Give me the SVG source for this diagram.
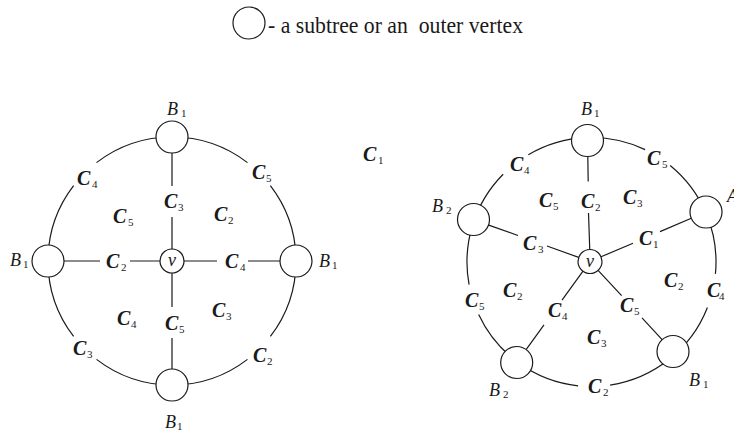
<svg xmlns="http://www.w3.org/2000/svg" width="734" height="434" viewBox="0 0 734 434">
<style>
.ln{fill:none;stroke:#1a1a1a;stroke-width:1.2}
.nd{fill:#fff;stroke:#1a1a1a;stroke-width:1.2}
.c{font-family:"Liberation Serif",serif;font-style:italic;font-weight:bold;font-size:20px;fill:#1a1a1a}
.b{font-family:"Liberation Serif",serif;font-style:italic;font-size:18px;fill:#1a1a1a}
.s{font-family:"Liberation Serif",serif;font-style:normal;font-weight:normal;font-size:11px;fill:#1a1a1a}
.lg{font-family:"Liberation Serif",serif;font-size:24px;fill:#1a1a1a;white-space:pre}
</style>
<g id="legend">
<circle class="nd" cx="249" cy="23" r="16"/>
<text class="lg" x="268" y="33" textLength="255" lengthAdjust="spacingAndGlyphs">- a subtree or an  outer vertex</text>
</g>
<g id="connectors">
<path class="ln" d="M270.38 185.51A124 124 0 0 1 270.38 336.49M247.49 359.38A124 124 0 0 1 96.51 359.38M73.62 336.49A124 124 0 0 1 73.62 185.51M96.51 162.62A124 124 0 0 1 247.49 162.62"/>
<path class="ln" d="M172 153V186M172 217V249M64 261H100M130 261H160M184 261H217M248 261H280M172 273V307M172 338V369"/>
<path class="ln" d="M528.32 154.73A124.5 124.5 0 0 1 645.10 149.63M670.18 165.53A124.5 124.5 0 0 1 715.43 273.93M707.42 307.43A124.5 124.5 0 0 1 610.11 385.11M578.05 385.78A124.5 124.5 0 0 1 478.67 314.61M469.08 284.69A124.5 124.5 0 0 1 503.16 174.28"/>
<path class="ln" d="M587.8 156.5L588.2 181.5M588.5 213L589.75 249.5M601 256.8L633 243.2M660 231.6L691.3 218.3M598.1 270.3L621.6 295.7M642 317.9L662.1 339.7M583 271.2L562 300.1M544 324.9L526.1 349.6M578.7 257.4L547 246M518 235.5L488 224.9"/>
</g>
<g id="labels">
<text class="c" x="77" y="185">C<tspan class="s" x="92" y="188">4</tspan></text>
<text class="c" x="164" y="208">C<tspan class="s" x="178" y="211">3</tspan></text>
<text class="c" x="113" y="223">C<tspan class="s" x="128" y="226">5</tspan></text>
<text class="c" x="214" y="221">C<tspan class="s" x="228" y="224">2</tspan></text>
<text class="c" x="252" y="179">C<tspan class="s" x="266" y="182">5</tspan></text>
<text class="c" x="106" y="268">C<tspan class="s" x="121" y="271">2</tspan></text>
<text class="c" x="225" y="268">C<tspan class="s" x="240" y="271">4</tspan></text>
<text class="c" x="117" y="325">C<tspan class="s" x="131" y="328">4</tspan></text>
<text class="c" x="165" y="330">C<tspan class="s" x="179" y="333">5</tspan></text>
<text class="c" x="212" y="317">C<tspan class="s" x="226" y="320">3</tspan></text>
<text class="c" x="73" y="355">C<tspan class="s" x="87" y="358">3</tspan></text>
<text class="c" x="253" y="362">C<tspan class="s" x="267" y="365">2</tspan></text>
<text class="c" x="363" y="161">C<tspan class="s" x="378" y="164">1</tspan></text>
<text class="c" x="647" y="165">C<tspan class="s" x="662" y="168">5</tspan></text>
<text class="c" x="510" y="171">C<tspan class="s" x="524" y="174">4</tspan></text>
<text class="c" x="707" y="297">C<tspan class="s" x="719" y="300">4</tspan></text>
<text class="c" x="588" y="393">C<tspan class="s" x="603" y="396">2</tspan></text>
<text class="c" x="465" y="307">C<tspan class="s" x="479" y="310">5</tspan></text>
<text class="c" x="581" y="208">C<tspan class="s" x="595" y="211">2</tspan></text>
<text class="c" x="639" y="245">C<tspan class="s" x="653" y="248">1</tspan></text>
<text class="c" x="620" y="312">C<tspan class="s" x="634" y="315">5</tspan></text>
<text class="c" x="548" y="317">C<tspan class="s" x="562" y="320">4</tspan></text>
<text class="c" x="523" y="250">C<tspan class="s" x="538" y="253">3</tspan></text>
<text class="c" x="539" y="207">C<tspan class="s" x="553" y="210">5</tspan></text>
<text class="c" x="623" y="204">C<tspan class="s" x="637" y="207">3</tspan></text>
<text class="c" x="664" y="287">C<tspan class="s" x="678" y="290">2</tspan></text>
<text class="c" x="587" y="344">C<tspan class="s" x="601" y="347">3</tspan></text>
<text class="c" x="503" y="297">C<tspan class="s" x="517" y="300">2</tspan></text>
</g>
<g id="L-top"><circle class="nd" cx="172" cy="137" r="16"/><text class="b" x="167" y="115">B<tspan class="s" x="181" y="117">1</tspan></text></g>
<g id="L-left"><circle class="nd" cx="48" cy="261" r="16"/><text class="b" x="10" y="266">B<tspan class="s" x="23" y="268">1</tspan></text></g>
<g id="L-right"><circle class="nd" cx="296" cy="261" r="16"/><text class="b" x="319" y="267">B<tspan class="s" x="332" y="269">1</tspan></text></g>
<g id="L-bottom"><circle class="nd" cx="172" cy="385" r="16"/><text class="b" x="165" y="428">B<tspan class="s" x="177" y="430">1</tspan></text></g>
<g id="L-v"><circle class="nd" cx="172" cy="261" r="12"/><text class="b" x="172" y="266" text-anchor="middle">v</text></g>
<g id="R-top"><circle class="nd" cx="587.5" cy="140.5" r="16"/><text class="b" x="581" y="115">B<tspan class="s" x="594" y="117">1</tspan></text></g>
<g id="R-A"><circle class="nd" cx="706" cy="212" r="16"/><text class="b" x="727" y="202">A</text></g>
<g id="R-br"><circle class="nd" cx="673" cy="351.5" r="16"/><text class="b" x="689" y="386">B<tspan class="s" x="703" y="388">1</tspan></text></g>
<g id="R-bl"><circle class="nd" cx="516.7" cy="362.5" r="16"/><text class="b" x="489" y="396">B<tspan class="s" x="503" y="398">2</tspan></text></g>
<g id="R-left"><circle class="nd" cx="473.5" cy="219.5" r="16"/><text class="b" x="432" y="212">B<tspan class="s" x="446" y="214">2</tspan></text></g>
<g id="R-v"><circle class="nd" cx="590" cy="261.5" r="12"/><text class="b" x="590" y="267" text-anchor="middle">v</text></g>
</svg>
